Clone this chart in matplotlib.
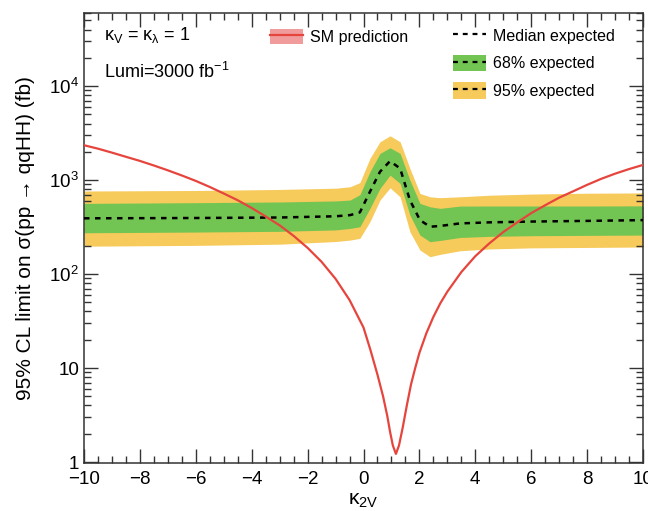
import numpy as np
import matplotlib
matplotlib.use("Agg")
import matplotlib.pyplot as plt
from matplotlib.patches import Patch
from matplotlib.lines import Line2D
from matplotlib.ticker import FixedLocator, FuncFormatter, LogLocator, MultipleLocator, NullFormatter

plt.rcParams['font.family'] = ['Liberation Sans', 'DejaVu Sans']
plt.rcParams['mathtext.fontset'] = 'custom'
plt.rcParams['mathtext.rm'] = 'Liberation Sans'
plt.rcParams['mathtext.it'] = 'Liberation Sans:italic'
plt.rcParams['mathtext.sf'] = 'Liberation Sans'

# SM prediction curve (kappa_2V, sigma in fb)
sm_k = [-10, -9.5, -9, -8.5, -8, -7.5, -7, -6.5, -6, -5.5, -5, -4.5, -4, -3.5, -3, -2.5, -2,
        -1.5, -1, -0.5, 0, 0.25, 0.5, 0.7, 0.85, 0.95, 1.05, 1.16, 1.27, 1.4, 1.55, 1.7, 1.85,
        2.0, 2.25, 2.5, 2.75, 3.0, 3.5, 4.0, 4.5, 5.0, 5.5, 6.0, 6.5, 7.0, 7.5, 8.0, 8.5, 9.0,
        9.5, 10]
sm_sigma = [2350, 2160, 1960, 1770, 1600, 1430, 1270, 1120, 980, 845, 720, 610, 505, 410, 330,
            255, 190, 135, 89, 53, 27, 15.5, 8.5, 5.0, 3.1, 2.1, 1.5, 1.22, 1.5, 2.3, 4.0, 6.7,
            10, 14.5, 23.5, 35, 49, 65, 105, 155, 212, 280, 355, 445, 540, 650, 760, 890, 1030,
            1170, 1310, 1450]

# expected limit bands
lim_k = [-10, -6, -3, -1, -0.48, -0.13, 0.23, 0.59, 0.95, 1.31, 1.66, 2.02, 2.38, 2.74, 3.45,
         4.5, 6, 8, 10]
y_hi = [765, 775, 795, 820, 849, 940, 1700, 2557, 2960, 2557, 1331, 721, 664, 650, 664, 690,
        710, 725, 730]
g_hi = [565, 575, 585, 600, 613, 700, 1227, 1922, 2206, 1922, 1000, 565, 520, 500, 529, 530,
        530, 530, 532]
median = [392, 395, 400, 412, 424, 453, 751, 1227, 1592, 1331, 613, 375, 319, 325, 346, 355,
          362, 368, 375]
g_lo = [275, 280, 285, 295, 306, 319, 500, 815, 1130, 922, 424, 260, 221, 228, 245, 252, 256,
        258, 260]
y_lo = [198, 202, 208, 222, 230, 240, 361, 613, 828, 664, 282, 180, 153, 162, 177, 185, 190,
        192, 194]

GREEN = '#72c552'
YELLOW = '#f6ca5b'
RED = '#e6453d'
PINK = '#f19c9c'
DASH = (0, (2.2, 2.2))

fig = plt.figure(figsize=(6.48, 5.11), dpi=100)
ax = fig.add_axes([84/648, 1-463/511, (643-84)/648, (463-13)/511])

ax.fill_between(lim_k, y_lo, y_hi, color=YELLOW, lw=0, zorder=1)
ax.fill_between(lim_k, g_lo, g_hi, color=GREEN, lw=0, zorder=2)
ax.plot(lim_k, median, color='black', ls=DASH, lw=1.8, zorder=3)
ax.plot(sm_k, sm_sigma, color=RED, lw=1.6, zorder=4)

ax.set_yscale('log')
ax.set_xlim(-10, 10)
ax.set_ylim(0.976, 6e4)

ax.xaxis.set_major_locator(MultipleLocator(2))
ax.xaxis.set_minor_locator(MultipleLocator(0.5))
ax.yaxis.set_major_locator(FixedLocator([1, 10, 100, 1000, 10000]))
ax.yaxis.set_minor_locator(LogLocator(base=10, subs=np.arange(2, 10)))
ax.yaxis.set_minor_formatter(NullFormatter())

def yfmt(v, pos):
    if v < 5:
        return '1'
    if v < 50:
        return '10'
    e = int(round(np.log10(v)))
    return r'$\mathregular{10^{%d}}$' % e

ax.yaxis.set_major_formatter(FuncFormatter(yfmt))
ax.tick_params(which='both', direction='in', top=True, right=True, colors='#333333',
               labelcolor='black', labelsize=13.5)
ax.tick_params(which='major', length=10, width=1)
ax.tick_params(which='minor', length=5, width=1)
ax.tick_params(axis='x', pad=6)
for s in ax.spines.values():
    s.set_color('#333333')
    s.set_linewidth(1.1)

ax.set_xlabel(r'κ$_\mathregular{2V}$', fontsize=15, labelpad=2)
ax.set_ylabel(r'95% CL limit on σ(pp → qqHH) (fb)', fontsize=15, labelpad=10)

ax.text(0.036, 0.952, r'κ$_\mathregular{V}$ = κ$_\mathregular{λ}$ = 1', transform=ax.transAxes,
        fontsize=13, va='center', ha='left')
ax.text(0.036, 0.868, r'Lumi=3000 fb$^\mathregular{-1}$', transform=ax.transAxes,
        fontsize=13, va='center', ha='left')

h_sm = (Patch(facecolor=PINK, edgecolor='none'), Line2D([], [], color=RED, lw=1.6))
leg1 = ax.legend([h_sm], ['SM prediction'], loc='upper left', bbox_to_anchor=(0.333, 0.965),
                 frameon=False, fontsize=11.5, handlelength=2.05, handleheight=1.1,
                 handletextpad=0.45, borderpad=0, borderaxespad=0)
ax.add_artist(leg1)

h_med = Line2D([], [], color='black', ls=DASH, lw=1.6)
h_68 = (Patch(facecolor=GREEN, edgecolor='none'), Line2D([], [], color='black', ls=DASH, lw=1.6))
h_95 = (Patch(facecolor=YELLOW, edgecolor='none'), Line2D([], [], color='black', ls=DASH, lw=1.6))
ax.legend([h_med, h_68, h_95], ['Median expected', '68% expected', '95% expected'],
          loc='upper left', bbox_to_anchor=(0.66, 0.968), frameon=False, fontsize=11.5,
          handlelength=2.05, handleheight=1.2, handletextpad=0.45, labelspacing=0.68,
          borderpad=0, borderaxespad=0)

fig.savefig('out.png', dpi=100)
